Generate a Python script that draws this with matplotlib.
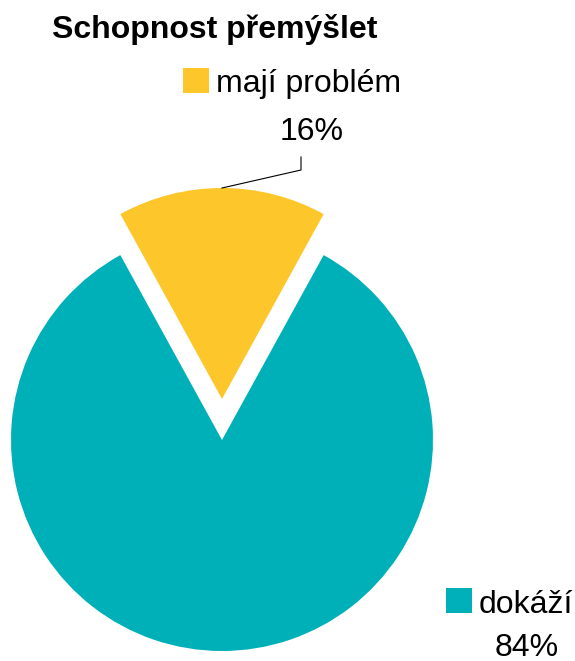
import matplotlib.pyplot as plt
from matplotlib.patches import Rectangle

plt.rcParams["font.family"] = ["Liberation Sans", "DejaVu Sans"]

title = "Schopnost přemýšlet"
labels = ["mají problém", "dokáží"]
values = [16, 84]
colors = ["#FDC62A", "#00B0B9"]

W, H = 575, 661
fig = plt.figure(figsize=(W / 100, H / 100), dpi=100)
ax = fig.add_axes([0, 0, 1, 1])


def y(px):
    # pixel row from top -> data y
    return H - px


# centre the small slice on the top; explode is in data units here
start = 90 - values[0] / sum(values) * 360 / 2
ax.pie(values, colors=colors, startangle=start, counterclock=True,
       center=(222, y(440)), radius=211, explode=[41, 0],
       wedgeprops={"linewidth": 0}, frame=True)
ax.set_xlim(0, W)
ax.set_ylim(0, H)
ax.set_aspect("equal")
ax.axis("off")

ax.text(52, y(38), title, fontsize=23, fontweight="bold", va="baseline", ha="left")

# legend-like labels
ax.add_patch(Rectangle((183, y(93)), 26, 25, color=colors[0], lw=0))
ax.text(216, y(92), labels[0], fontsize=23, va="baseline", ha="left")
ax.text(312, y(140), f"{values[0]}%", fontsize=23, va="baseline", ha="center")
ax.plot([301, 301, 222], [y(157), y(170), y(188)], color="black", lw=0.8)

ax.add_patch(Rectangle((446, y(613)), 26, 25, color=colors[1], lw=0))
ax.text(479, y(613), labels[1], fontsize=23, va="baseline", ha="left")
ax.text(527, y(656), f"{values[1]}%", fontsize=23, va="baseline", ha="center")

fig.savefig("out.png", dpi=100)
